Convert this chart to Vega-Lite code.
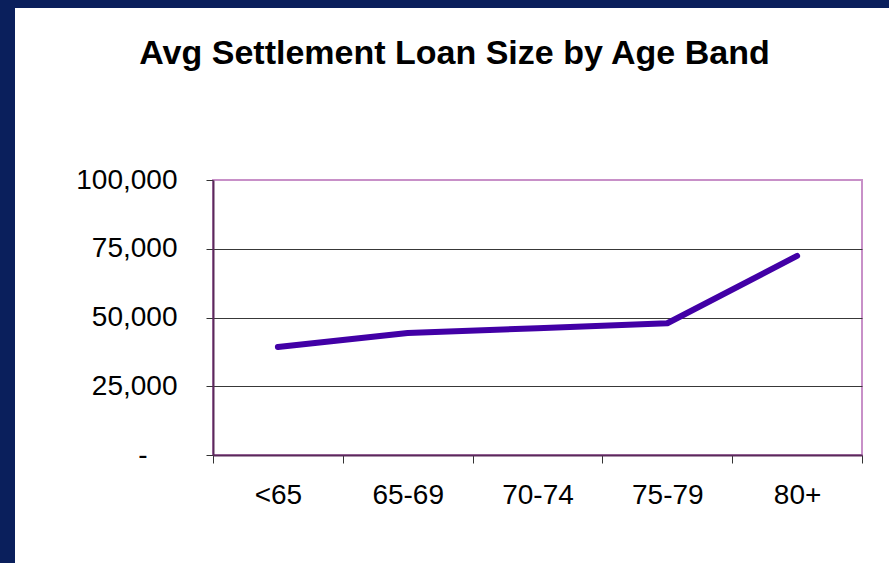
{
  "$schema": "https://vega.github.io/schema/vega-lite/v6.json",
  "background": "white",
  "padding": 0,
  "config": {"view": {"stroke": null}, "font": "Liberation Sans"},
  "spacing": 0,
  "bounds": "flush",
  "vconcat": [
    {
      "width": 889,
      "height": 8,
      "view": {"fill": "#0a1f5c", "stroke": null},
      "data": {"values": []},
      "mark": "point"
    },
    {
      "spacing": 198,
      "bounds": "flush",
      "hconcat": [
        {
          "width": 15,
          "height": 555,
          "view": {"fill": "#0a1f5c", "stroke": null},
          "data": {"values": []},
          "mark": "point"
        },
        {
          "spacing": 0,
          "bounds": "flush",
          "vconcat": [
            {
              "width": 649,
              "height": 172,
              "view": {"stroke": null},
              "data": {"values": []},
              "mark": "point"
            },
            {
              "width": 649,
              "height": 275,
              "view": {"stroke": "#c890c8", "strokeWidth": 2},
              "title": {
                "text": "Avg Settlement Loan Size by Age Band",
                "fontSize": 34,
                "fontWeight": "bold",
                "font": "Liberation Sans",
                "color": "#000000",
                "anchor": "middle",
                "dx": -83,
                "offset": 95
              },
              "data": {
                "values": [
                  {"age": "<65", "loan": 39300},
                  {"age": "65-69", "loan": 44400},
                  {"age": "70-74", "loan": 46100},
                  {"age": "75-79", "loan": 47900},
                  {"age": "80+", "loan": 72400}
                ]
              },
              "mark": {"type": "line", "color": "#4200a6", "strokeWidth": 6, "strokeCap": "round", "strokeJoin": "round"},
              "encoding": {
                "x": {
                  "field": "age",
                  "type": "nominal",
                  "sort": null,
                  "scale": {"paddingInner": 0, "paddingOuter": 0},
                  "axis": {
                    "title": null,
                    "labelAngle": 0,
                    "labelFontSize": 28,
                    "labelColor": "#000000",
                    "labelPadding": 18,
                    "tickBand": "extent",
                    "tickSize": 8,
                    "tickColor": "#333333",
                    "domainColor": "#5a2a5a",
                    "domainWidth": 2,
                    "grid": false
                  }
                },
                "y": {
                  "field": "loan",
                  "type": "quantitative",
                  "scale": {"domain": [0, 100000], "nice": false},
                  "axis": {
                    "title": null,
                    "values": [0, 25000, 50000, 75000, 100000],
                    "labelExpr": "datum.value == 0 ? '-' : format(datum.value, ',.0f')",
                    "labelFontSize": 28,
                    "labelColor": "#000000",
                    "labelPadding": {"condition": {"test": "datum.value == 0", "value": 59}, "value": 29},
                    "tickSize": 7,
                    "tickColor": "#333333",
                    "domainColor": "#5a2a5a",
                    "domainWidth": 2,
                    "grid": true,
                    "gridColor": "#383838",
                    "gridWidth": 1.2,
                    "gridOpacity": {"condition": {"test": "datum.value <= 0 || datum.value >= 100000", "value": 0}, "value": 1}
                  }
                }
              }
            }
          ]
        }
      ]
    }
  ]
}
